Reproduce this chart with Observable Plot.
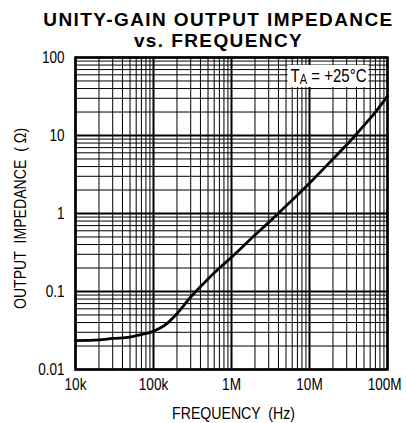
<!DOCTYPE html>
<html><head><meta charset="utf-8">
<script src="https://cdn.jsdelivr.net/npm/d3@7"></script>
<script src="https://cdn.jsdelivr.net/npm/@observablehq/plot@0.6"></script>
<style>
body{margin:0;background:#fff;}
#title{position:relative;z-index:2;width:377px;padding:9px 0 0 30px;height:31px;overflow:visible;font:bold 19px/21px "Liberation Sans",Arial,sans-serif;letter-spacing:1.4px;text-align:center;color:#000;}
#chart svg{display:block;}
</style></head><body>
<div id="title">UNITY-GAIN OUTPUT IMPEDANCE<br>vs. FREQUENCY</div>
<div id="chart"></div>
<script>
// Frequency (Hz) and output impedance (ohms)
const freq      = [1e4, 2e4, 3e4, 5e4, 7e4, 1e5, 1.5e5, 2e5, 3e5, 5e5, 7e5, 1e6, 2e6, 3e6, 5e6, 1e7, 2e7, 3e7, 5e7, 7e7, 1e8];
const impedance = [0.0235, 0.024, 0.025, 0.026, 0.028, 0.031, 0.039, 0.052, 0.085, 0.145, 0.2, 0.275, 0.53, 0.77, 1.25, 2.45, 5.0, 7.6, 13.5, 20, 32];
const xTicks = [1e4, 1e5, 1e6, 1e7, 1e8];
const xTickLabels = ["10k", "100k", "1M", "10M", "100M"];
const yTicks = [0.01, 0.1, 1, 10, 100];
const yTickLabels = ["0.01", "0.1", "1", "10", "100"];
const annotation = ["T", "A", " = +25°C"];

const data = freq.map((f, i) => ({f, z: impedance[i]}));
const minor = (decades) => decades.slice(0, -1).flatMap(d => [2,3,4,5,6,7,8,9].map(k => d * k));
const minorX = minor(xTicks);
const minorY = minor(yTicks);

const font = '"Liberation Sans",Arial,sans-serif';
const annoText = annotation.join("");

const chart = Plot.plot({
  width: 407,
  height: 383,
  marginLeft: 75,
  marginRight: 20,
  marginTop: 17,
  marginBottom: 54,
  style: {fontFamily: font, fontSize: "16.5px", color: "#000", background: "transparent"},
  x: {type: "log", domain: [1e4, 1e8], ticks: xTicks, tickFormat: d => xTickLabels[xTicks.indexOf(d)],
      tickSize: 0, tickPadding: 9, label: "FREQUENCY  (Hz)", labelAnchor: "center", labelOffset: 49, labelArrow: "none"},
  y: {type: "log", domain: [0.01, 100], ticks: yTicks, tickFormat: d => yTickLabels[yTicks.indexOf(d)],
      tickSize: 0, tickPadding: 11, label: "OUTPUT  IMPEDANCE  ( Ω)", labelAnchor: "center", labelOffset: 62, labelArrow: "none"},
  marks: [
    Plot.ruleX(minorX, {stroke: "#000", strokeWidth: 1}),
    Plot.ruleY(minorY, {stroke: "#000", strokeWidth: 1}),
    Plot.ruleX(xTicks, {stroke: "#000", strokeWidth: 2}),
    Plot.ruleY(yTicks, {stroke: "#000", strokeWidth: 2}),
    Plot.frame({stroke: "#000", strokeWidth: 2.5}),
    Plot.line(data, {x: "f", y: "z", stroke: "#000", strokeWidth: 2.8, curve: "monotone-x", strokeLinejoin: "round"}),
    Plot.text([annoText], {frameAnchor: "top-right", dx: -21, dy: 11, textAnchor: "end", lineAnchor: "top", fontSize: 19, fill: "#000"})
  ]
});
document.getElementById("chart").appendChild(chart);

const svg = chart.tagName.toLowerCase() === "svg" ? chart : chart.querySelector("svg");
const ns = "http://www.w3.org/2000/svg";
const squeeze = 0.82;

[...svg.querySelectorAll("text")].forEach(t => {
  if (/[→↑]/.test(t.textContent) && t.children.length === 0) t.textContent = t.textContent.replace(/\s*[→↑]\s*/g, "");
  if (t.textContent === annoText) {
    // T with subscript A, squeezed horizontally around its right edge, on a white box
    t.textContent = "";
    const t1 = document.createElementNS(ns, "tspan"); t1.textContent = annotation[0];
    const t2 = document.createElementNS(ns, "tspan"); t2.textContent = annotation[1];
    t2.setAttribute("font-size", "14"); t2.setAttribute("dy", "2");
    const t3 = document.createElementNS(ns, "tspan"); t3.textContent = annotation[2]; t3.setAttribute("dy", "-2");
    t.append(t1, t2, t3);
    const outer = document.createElementNS(ns, "g");
    const tr = t.getAttribute("transform");
    if (tr) { outer.setAttribute("transform", tr); t.removeAttribute("transform"); }
    t.parentNode.insertBefore(outer, t);
    const inner = document.createElementNS(ns, "g");
    outer.appendChild(inner);
    inner.appendChild(t);
    const b = t.getBBox();
    const ax = b.x + b.width;
    const s = 0.79;
    inner.setAttribute("transform", `translate(${ax},0) scale(${s},1) translate(${-ax},0)`);
    const r = document.createElementNS(ns, "rect");
    r.setAttribute("x", b.x - 3 / s); r.setAttribute("y", b.y);
    r.setAttribute("width", b.width + 5 / s); r.setAttribute("height", b.height);
    r.setAttribute("fill", "#fff");
    inner.insertBefore(r, t);
    return;
  }
  if (t.textContent === "100M") { t.setAttribute("text-anchor", "end"); t.setAttribute("dx", "14"); }
  const len = t.getComputedTextLength();
  if (len > 0) {
    t.setAttribute("textLength", (len * squeeze).toFixed(2));
    t.setAttribute("lengthAdjust", "spacingAndGlyphs");
  }
});
// slightly larger axis titles, nudged as in the reference
[...svg.querySelectorAll("text")].forEach(t => {
  if (/FREQUENCY|IMPEDANCE/.test(t.textContent)) {
    t.style.fontSize = "17px";
    t.removeAttribute("textLength");
    const len = t.getComputedTextLength();
    t.setAttribute("textLength", (len * 0.83).toFixed(2));
    t.setAttribute("lengthAdjust", "spacingAndGlyphs");
    t.setAttribute("dx", /IMPEDANCE/.test(t.textContent) ? "-5" : "2");
  }
});
</script>
</body></html>
